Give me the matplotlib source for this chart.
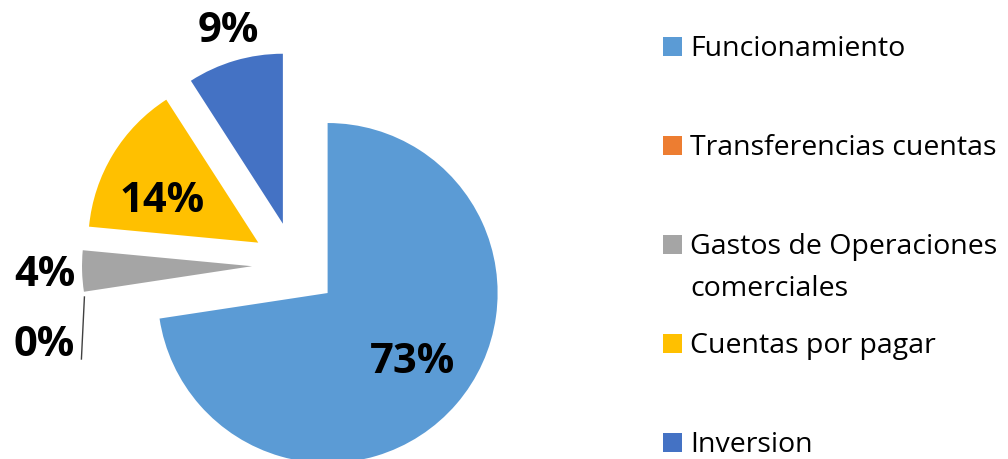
import textwrap
import numpy as np
import matplotlib.pyplot as plt

# datos del grafico
categorias = ["Funcionamiento", "Transferencias cuentas",
              "Gastos de Operaciones comerciales", "Cuentas por pagar", "Inversion"]
valores = [72.6, 0.0, 3.9, 14.4, 9.1]
colores = ["#5B9BD5", "#ED7D31", "#A5A5A5", "#FFC000", "#4472C4"]

# posicion de las etiquetas: (distancia en radios desde el vertice, giro en grados)
pos_etiquetas = [(0.64, 1.6), (1.30, 10.7), (1.22, 0.6), (0.62, 7.6), (1.18, -0.6)]

plt.rcParams['font.family'] = ['Open Sans', 'DejaVu Sans']

fig = plt.figure(figsize=(10.08, 4.6), dpi=100)
ax = fig.add_axes([0, 0, 1, 1])

R = 170
wedges, _ = ax.pie(valores, colors=colores, startangle=90, counterclock=False,
                   radius=R, center=(295, 194), explode=[43] * len(valores),
                   wedgeprops=dict(linewidth=0))
ax.set_xlim(0, 1008)
ax.set_ylim(0, 460)
ax.set_aspect('equal')
ax.axis('off')

total = sum(valores)
for w, v, (d, giro) in zip(wedges, valores, pos_etiquetas):
    ang = np.deg2rad((w.theta1 + w.theta2) / 2 + giro)
    x = w.center[0] + d * w.r * np.cos(ang)
    y = w.center[1] + d * w.r * np.sin(ang)
    ax.text(x, y, f"{round(v / total * 100):.0f}%", ha='center', va='center',
            fontsize=30, fontweight='bold', color='black')

# linea guia para la porcion de 0%
w0 = wedges[1]
a0 = np.deg2rad(w0.theta1)
x0 = w0.center[0] + w0.r * np.cos(a0)
y0 = w0.center[1] + w0.r * np.sin(a0)
ax.plot([x0, x0 - 3], [y0, 100], color='#404040', lw=1)

# leyenda
for i, (cat, col) in enumerate(zip(categorias, colores)):
    base = 460 - (56 + 99 * i)
    ax.add_patch(plt.Rectangle((663, base - 1), 19, 19, color=col, lw=0))
    for j, linea in enumerate(textwrap.wrap(cat, 22)):
        ax.text(690, base - 42 * j, linea, ha='left', va='baseline',
                fontsize=20.5, color='black')

fig.savefig("out.png", dpi=100)
